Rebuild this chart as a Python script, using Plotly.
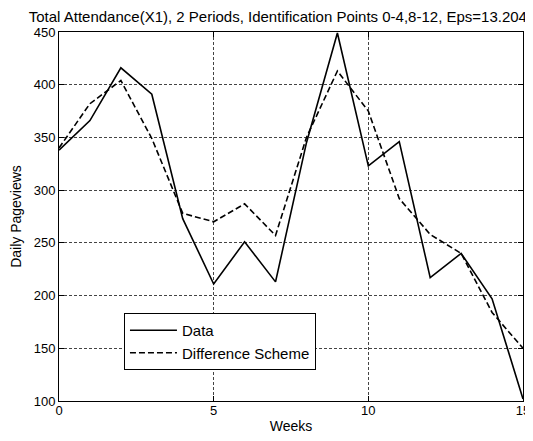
import plotly.graph_objects as go

weeks = list(range(16))
data_values = [338, 366, 416, 391, 273, 211, 251, 213, 345, 449, 323, 346, 217, 240, 197, 102]
scheme_values = [340, 382, 404, 349, 278, 270, 287, 257, 350, 413, 375, 292, 258, 240, 184, 150]

x_ticks = [0, 5, 10, 15]
y_ticks = [100, 150, 200, 250, 300, 350, 400, 450]

title_text = "Total Attendance(X1), 2 Periods, Identification Points 0-4,8-12, Eps=13.204"
font_family = "Liberation Sans, Arial, sans-serif"

fig = go.Figure()
fig.add_trace(go.Scatter(
    x=weeks, y=data_values, mode="lines", name="Data",
    line=dict(color="black", width=1.6)
))
fig.add_trace(go.Scatter(
    x=weeks, y=scheme_values, mode="lines", name="Difference Scheme",
    line=dict(color="black", width=1.6, dash="6px,3px")
))

grid_style = dict(showgrid=True, gridcolor="#444444", gridwidth=1, griddash="3px,2px")

# the page body adds an 8px margin, so the figure is 8px smaller on each axis
fig.update_layout(
    width=525, height=433,
    margin=dict(l=51, r=10, t=24, b=40, autoexpand=False),
    paper_bgcolor="white", plot_bgcolor="white",
    font=dict(family=font_family, size=14, color="black"),
    title=dict(text=title_text, x=0.514, xref="container", xanchor="center",
               y=1 - 8.5 / 433, yref="container", yanchor="middle",
               font=dict(size=15, color="black")),
    showlegend=True,
    legend=dict(
        x=0.14, y=0.2385, xanchor="left", yanchor="top",
        bgcolor="white", bordercolor="black", borderwidth=1,
        font=dict(size=15, color="black"),
        tracegroupgap=0, itemwidth=47,
    ),
    xaxis=dict(
        range=[0, 15], tickvals=x_ticks, ticktext=[str(v) for v in x_ticks],
        ticks="inside", ticklen=5, tickcolor="black",
        showline=True, linecolor="black", linewidth=1, mirror="allticks",
        zeroline=False, automargin=False, ticklabelstandoff=-3,
        title=dict(text="Weeks", standoff=4, font=dict(size=14)),
        tickfont=dict(size=13),
        **grid_style,
    ),
    yaxis=dict(
        range=[100, 450], tickvals=y_ticks, ticktext=[str(v) for v in y_ticks],
        ticks="inside", ticklen=5, tickcolor="black",
        showline=True, linecolor="black", linewidth=1, mirror="allticks",
        zeroline=False, automargin=False,
        title=dict(text="Daily Pageviews", standoff=8, font=dict(size=14)),
        tickfont=dict(size=13),
        **grid_style,
    ),
)

fig.write_html("out.html")
